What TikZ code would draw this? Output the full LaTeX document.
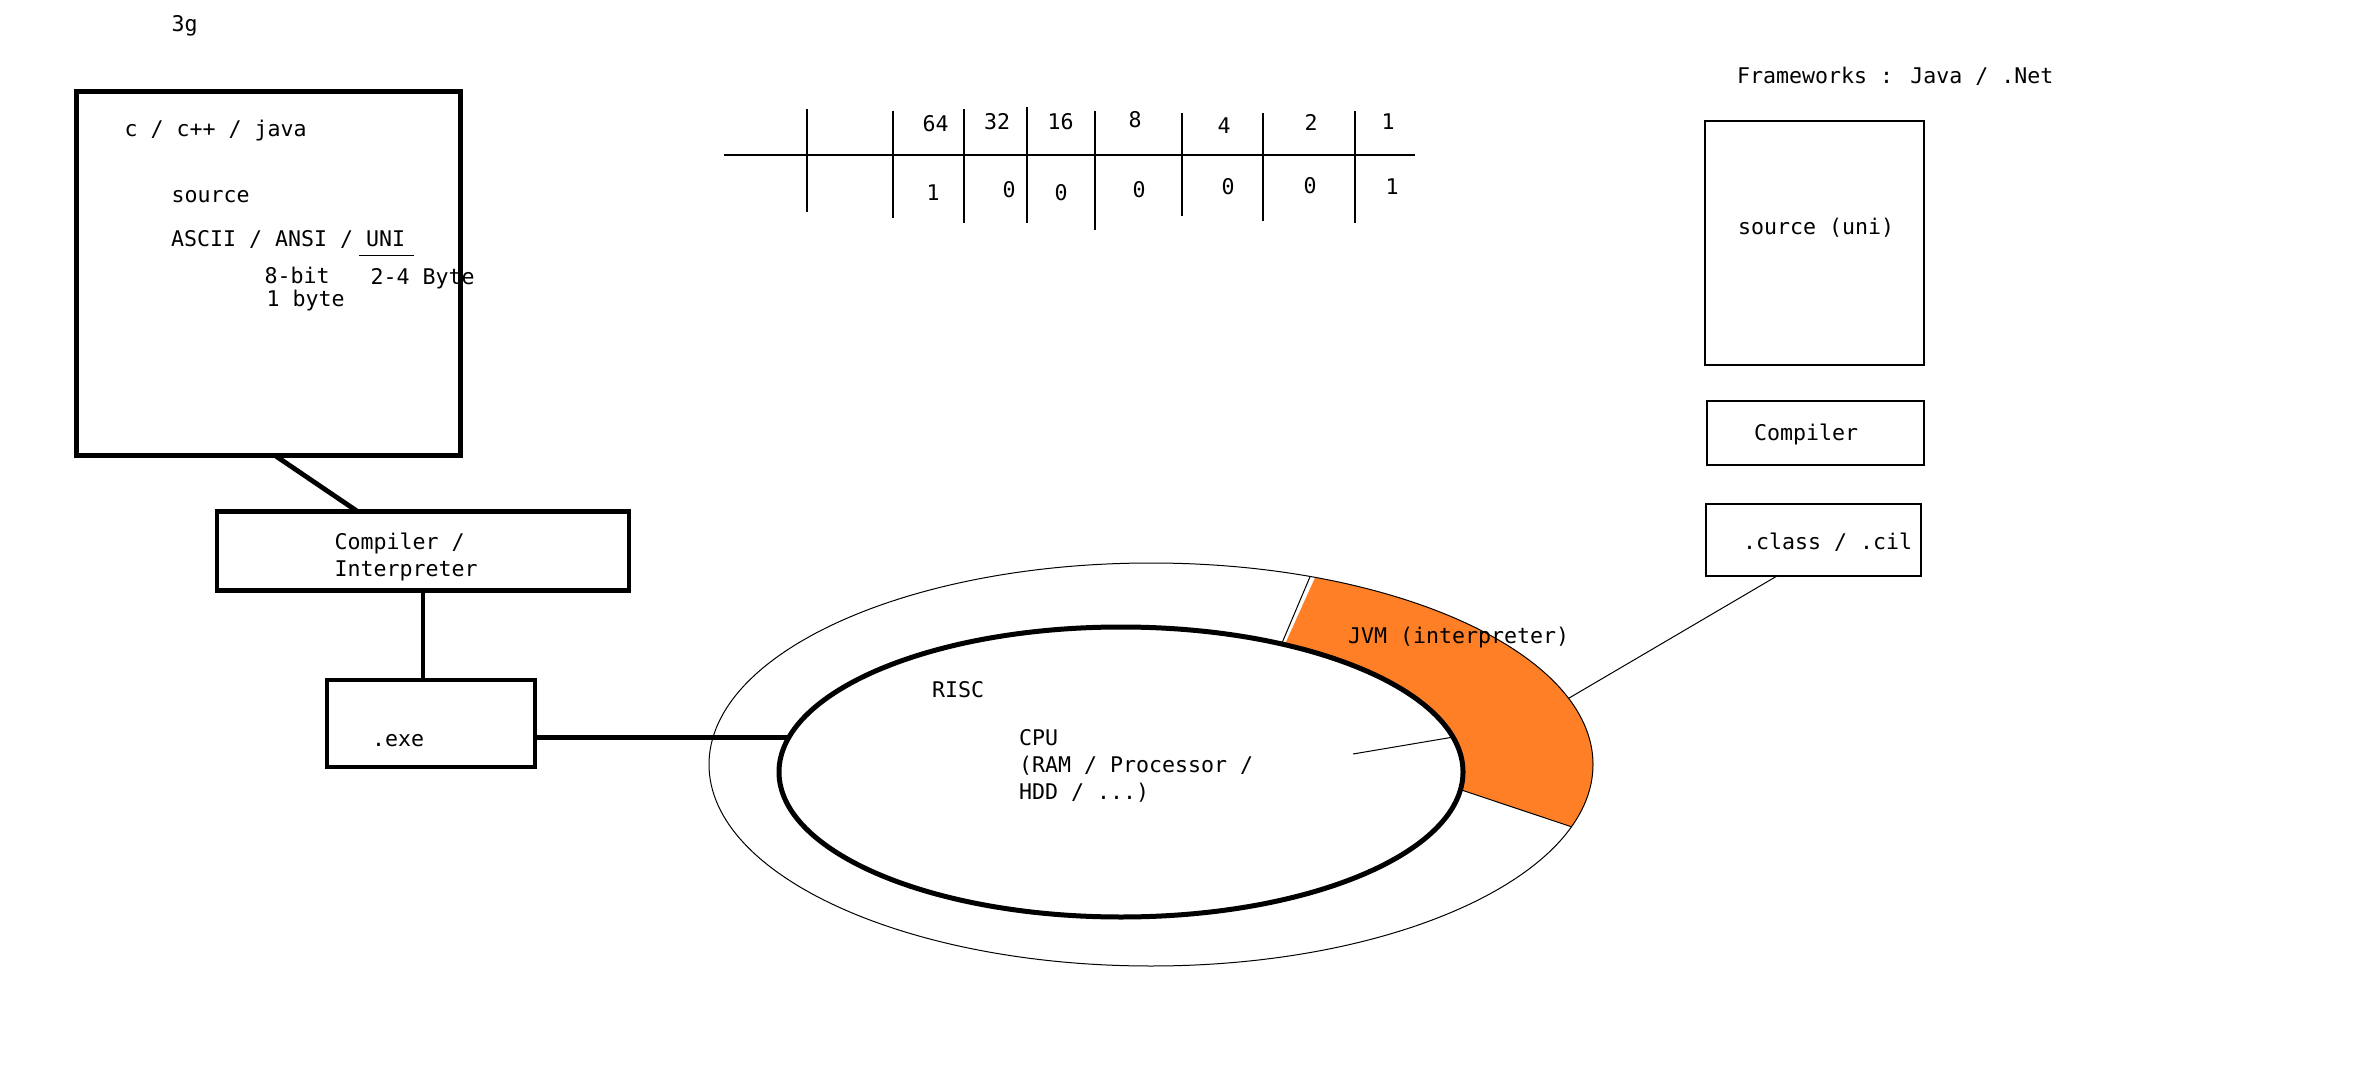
\documentclass[tikz,border=0pt]{standalone}
\usepackage{fontspec}
\setmainfont{DejaVu Sans Mono}
\usetikzlibrary{shapes.geometric,calc}
\definecolor{jvmorange}{RGB}{255,127,39}

\begin{document}
\begin{tikzpicture}[x=0.5pt,y=0.5pt,
    every node/.style={inner sep=0pt,outer sep=0pt,font=\fontsize{10.8}{13.5}\selectfont},
    txt/.style={anchor=base west},
    heavybox/.style={draw,line width=2.3pt},
    lightbox/.style={draw,line width=0.6pt},
    heavy/.style={line width=2.4pt},
    light/.style={line width=0.5pt},
    gridline/.style={line width=0.65pt}]
  \useasboundingbox (0,0) rectangle (2375,-1079);

  % native: source -> compiler -> exe
  \node[txt] (gen) at (171.5,-32) {3g};
  \node[heavybox,minimum width=192pt,minimum height=182pt] (src) at (268.5,-273.5) {};
  \node[txt] (lang) at (124.5,-137) {c / c++ / java};
  \node[txt] (srclbl) at (171.5,-203) {source};
  \node[txt] (enc) at (171,-247) {ASCII / ANSI / UNI};
  \draw[light] (359,-256) -- (414,-256);
  \node[txt] (bits) at (264.5,-284) {8-bit};
  \node[txt] (unibytes) at (370.5,-285) {2-4 Byte};
  \node[txt] (onebyte) at (266.5,-307) {1 byte};

  \node[heavybox,minimum width=206pt,minimum height=39.25pt] (comp) at (423,-551) {};
  \node[txt] (complbl) at (334.5,-549.3) {Compiler /};
  \node[txt] (interplbl) at (334.5,-576.7) {Interpreter};

  \node[heavybox,minimum width=104pt,minimum height=43.5pt] (exe) at (431,-723.5) {};
  \node[txt] (exelbl) at (372,-746) {.exe};

  \draw[heavy] ($(src.south)+(6.5,0)$) -- ($(comp.north)+(-65,0)$);
  \draw[heavy] (comp.south) -- (comp.south |- exe.north);

  % bit table
  \draw[gridline] (724,-155) -- (1415,-155);
  \foreach \x/\t/\b in {807/109/212, 893/111/218, 964/109/223, 1027/107/223,
                        1095/111/230, 1182/113/216, 1263/113/221, 1355/111/223}
    \draw[gridline] (\x,-\t) -- (\x,-\b);
  \foreach \x/\y/\v [count=\i] in {935.5/124/64, 997/122/32, 1060.5/122/16, 1135/120/8,
                                   1224/126/4, 1311/122/2, 1388/122/1}
    \node (w\i) at (\x,-\y) {\v};
  \foreach \x/\y/\v [count=\i] in {933/193/1, 1009/190/0, 1061/193/0, 1139/190/0,
                                   1228/187/0, 1310/185.5/0, 1392/187/1}
    \node (b\i) at (\x,-\y) {\v};

  % cpu rings
  \coordinate (ringc) at (1151,-764.5);
  \coordinate (cpuc) at (1121,-772);
  \fill[jvmorange] ($(ringc)+(68.2:442 and 201.5)$)
    arc[start angle=68.2,end angle=-18,x radius=442,y radius=201.5]
    -- ($(cpuc)+(-7:342 and 145)$)
    arc[start angle=-7,end angle=61.4,x radius=342,y radius=145] -- cycle;
  \draw[light] ($(ringc)+(68.9:442 and 201.5)$) -- ($(cpuc)+(62:342 and 145)$);
  \draw[light] ($(ringc)+(-18:442 and 201.5)$) -- ($(cpuc)+(-7:342 and 145)$);
  \node[ellipse,draw,light,minimum width=442pt,minimum height=201.5pt] (ring) at (ringc) {};
  \node[ellipse,draw,line width=2.5pt,minimum width=342pt,minimum height=145pt] (cpu) at (cpuc) {};

  \node[txt] (risc) at (932,-697) {RISC};
  \node[txt] (cpulbl) at (1019,-745) {CPU};
  \node[txt] (ramlbl) at (1019,-772) {(RAM / Processor /};
  \node[txt] (hddlbl) at (1019,-799) {HDD / ...)};
  \node[txt] (jvmlbl) at (1348,-643) {JVM (interpreter)};

  \draw[heavy] (cpu.174.9) -- (cpu.174.9 -| exe.east);
  \coordinate (jvmtail) at (1353,-754);
  \draw[light] (jvmtail) -- (cpu.6.5);

  % managed: frameworks column
  \node[txt] (fw) at (1737,-84) {Frameworks : Java / .Net};
  \node[lightbox,minimum width=109.5pt,minimum height=122pt] (usrc) at (1814.5,-243) {};
  \node[txt] (usrclbl) at (1738,-235) {source (uni)};
  \node[lightbox,minimum width=108.5pt,minimum height=32pt] (jcomp) at (1815.5,-433) {};
  \node[txt] (jcomplbl) at (1754,-441) {Compiler};
  \node[lightbox,minimum width=107.5pt,minimum height=36pt] (jclass) at (1813.5,-540) {};
  \node[txt] (jclasslbl) at (1743,-549) {.class / .cil};

  \draw[light] ($(jclass.south)+(-36.5,0)$) -- (ring.9.75);
\end{tikzpicture}
\end{document}
